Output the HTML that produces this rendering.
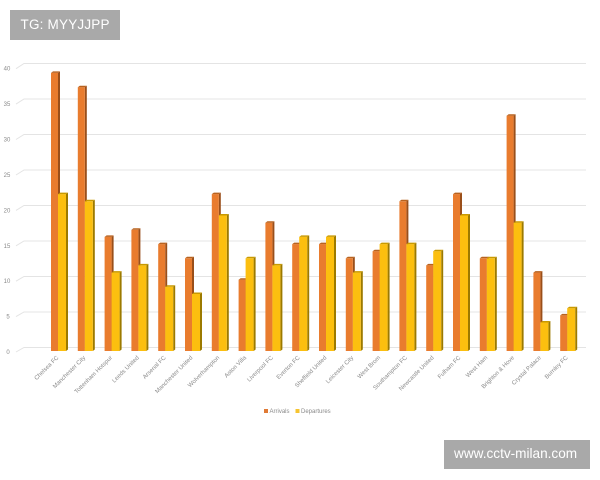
<!DOCTYPE html>
<html><head><meta charset="utf-8"><style>
html,body{margin:0;padding:0;background:#fff;}
body{width:600px;height:480px;position:relative;overflow:hidden;font-family:"Liberation Sans",sans-serif;}
.wm{position:absolute;background:#a9a9a9;color:#fff;}
</style></head><body>
<svg width="600" height="480" viewBox="0 0 600 480" style="position:absolute;left:0;top:0">
<g stroke="#e4e4e4" stroke-width="1" fill="none">
<path d="M16 352 L24 347.5 L586 347.5"/>
<path d="M16 316.6 L24 312 L586 312"/>
<path d="M16 281.2 L24 276.5 L586 276.5"/>
<path d="M16 245.8 L24 241 L586 241"/>
<path d="M16 210.4 L24 205.5 L586 205.5"/>
<path d="M16 175 L24 170 L586 170"/>
<path d="M16 139.5 L24 134.5 L586 134.5"/>
<path d="M16 104.1 L24 99 L586 99"/>
<path d="M16 68.7 L24 63.5 L586 63.5"/>
</g>
<g font-family="Liberation Sans, sans-serif" font-size="6" fill="#8a8a8a" text-anchor="middle">
<text x="8" y="354">0</text>
<text x="8" y="318.6">5</text>
<text x="7" y="283.2">10</text>
<text x="7" y="247.8">15</text>
<text x="7" y="212.4">20</text>
<text x="7" y="177">25</text>
<text x="7" y="141.5">30</text>
<text x="7" y="106.1">35</text>
<text x="7" y="70.7">40</text>
</g>

<!-- bars -->
<g>
<!-- 0 Chelsea 39/22 -->
<g transform="translate(51,0)">
<path d="M7 72.9 L9 71.4 L9 349.5 L7 351Z" fill="#9a4f1a"/><rect x="0" y="72.9" width="7" height="278.1" fill="#e97c2e"/><path d="M0 72.9 L2 71.4 L9 71.4 L7 72.9Z" fill="#b8621f"/>
<path d="M15 194.1 L17 192.6 L17 349.5 L15 351Z" fill="#9c7a00"/><rect x="7" y="194.1" width="8" height="156.9" fill="#fcbf0f"/><path d="M7 194.1 L9 192.6 L17 192.6 L15 194.1Z" fill="#c99a00"/>
</g>
<!-- 1 Man City 37/21 -->
<g transform="translate(77.8,0)">
<path d="M7 87.2 L9 85.7 L9 349.5 L7 351Z" fill="#9a4f1a"/><rect x="0" y="87.2" width="7" height="263.8" fill="#e97c2e"/><path d="M0 87.2 L2 85.7 L9 85.7 L7 87.2Z" fill="#b8621f"/>
<path d="M15 201.3 L17 199.8 L17 349.5 L15 351Z" fill="#9c7a00"/><rect x="7" y="201.3" width="8" height="149.7" fill="#fcbf0f"/><path d="M7 201.3 L9 199.8 L17 199.8 L15 201.3Z" fill="#c99a00"/>
</g>
<!-- 2 Tottenham 16/11 -->
<g transform="translate(104.6,0)">
<path d="M7 236.9 L9 235.4 L9 349.5 L7 351Z" fill="#9a4f1a"/><rect x="0" y="236.9" width="7" height="114.1" fill="#e97c2e"/><path d="M0 236.9 L2 235.4 L9 235.4 L7 236.9Z" fill="#b8621f"/>
<path d="M15 272.6 L17 271.1 L17 349.5 L15 351Z" fill="#9c7a00"/><rect x="7" y="272.6" width="8" height="78.4" fill="#fcbf0f"/><path d="M7 272.6 L9 271.1 L17 271.1 L15 272.6Z" fill="#c99a00"/>
</g>
<!-- 3 Leeds 17/12 -->
<g transform="translate(131.4,0)">
<path d="M7 229.8 L9 228.3 L9 349.5 L7 351Z" fill="#9a4f1a"/><rect x="0" y="229.8" width="7" height="121.2" fill="#e97c2e"/><path d="M0 229.8 L2 228.3 L9 228.3 L7 229.8Z" fill="#b8621f"/>
<path d="M15 265.4 L17 263.9 L17 349.5 L15 351Z" fill="#9c7a00"/><rect x="7" y="265.4" width="8" height="85.6" fill="#fcbf0f"/><path d="M7 265.4 L9 263.9 L17 263.9 L15 265.4Z" fill="#c99a00"/>
</g>
<!-- 4 Arsenal 15/9 -->
<g transform="translate(158.2,0)">
<path d="M7 244.1 L9 242.6 L9 349.5 L7 351Z" fill="#9a4f1a"/><rect x="0" y="244.1" width="7" height="106.9" fill="#e97c2e"/><path d="M0 244.1 L2 242.6 L9 242.6 L7 244.1Z" fill="#b8621f"/>
<path d="M15 286.8 L17 285.3 L17 349.5 L15 351Z" fill="#9c7a00"/><rect x="7" y="286.8" width="8" height="64.2" fill="#fcbf0f"/><path d="M7 286.8 L9 285.3 L17 285.3 L15 286.8Z" fill="#c99a00"/>
</g>
<!-- 5 Man United 13/8 -->
<g transform="translate(185,0)">
<path d="M7 258.3 L9 256.8 L9 349.5 L7 351Z" fill="#9a4f1a"/><rect x="0" y="258.3" width="7" height="92.7" fill="#e97c2e"/><path d="M0 258.3 L2 256.8 L9 256.8 L7 258.3Z" fill="#b8621f"/>
<path d="M15 294 L17 292.5 L17 349.5 L15 351Z" fill="#9c7a00"/><rect x="7" y="294" width="8" height="57" fill="#fcbf0f"/><path d="M7 294 L9 292.5 L17 292.5 L15 294Z" fill="#c99a00"/>
</g>
<!-- 6 Wolves 22/19 -->
<g transform="translate(211.8,0)">
<path d="M7 194.1 L9 192.6 L9 349.5 L7 351Z" fill="#9a4f1a"/><rect x="0" y="194.1" width="7" height="156.9" fill="#e97c2e"/><path d="M0 194.1 L2 192.6 L9 192.6 L7 194.1Z" fill="#b8621f"/>
<path d="M15 215.5 L17 214 L17 349.5 L15 351Z" fill="#9c7a00"/><rect x="7" y="215.5" width="8" height="135.5" fill="#fcbf0f"/><path d="M7 215.5 L9 214 L17 214 L15 215.5Z" fill="#c99a00"/>
</g>
<!-- 7 Aston Villa 10/13 -->
<g transform="translate(238.6,0)">
<path d="M7 279.7 L9 278.2 L9 349.5 L7 351Z" fill="#9a4f1a"/><rect x="0" y="279.7" width="7" height="71.3" fill="#e97c2e"/><path d="M0 279.7 L2 278.2 L9 278.2 L7 279.7Z" fill="#b8621f"/>
<path d="M15 258.3 L17 256.8 L17 349.5 L15 351Z" fill="#9c7a00"/><rect x="7" y="258.3" width="8" height="92.7" fill="#fcbf0f"/><path d="M7 258.3 L9 256.8 L17 256.8 L15 258.3Z" fill="#c99a00"/>
</g>
<!-- 8 Liverpool 18/12 -->
<g transform="translate(265.4,0)">
<path d="M7 222.7 L9 221.2 L9 349.5 L7 351Z" fill="#9a4f1a"/><rect x="0" y="222.7" width="7" height="128.3" fill="#e97c2e"/><path d="M0 222.7 L2 221.2 L9 221.2 L7 222.7Z" fill="#b8621f"/>
<path d="M15 265.4 L17 263.9 L17 349.5 L15 351Z" fill="#9c7a00"/><rect x="7" y="265.4" width="8" height="85.6" fill="#fcbf0f"/><path d="M7 265.4 L9 263.9 L17 263.9 L15 265.4Z" fill="#c99a00"/>
</g>
<!-- 9 Everton 15/16 -->
<g transform="translate(292.2,0)">
<path d="M7 244.1 L9 242.6 L9 349.5 L7 351Z" fill="#9a4f1a"/><rect x="0" y="244.1" width="7" height="106.9" fill="#e97c2e"/><path d="M0 244.1 L2 242.6 L9 242.6 L7 244.1Z" fill="#b8621f"/>
<path d="M15 236.9 L17 235.4 L17 349.5 L15 351Z" fill="#9c7a00"/><rect x="7" y="236.9" width="8" height="114.1" fill="#fcbf0f"/><path d="M7 236.9 L9 235.4 L17 235.4 L15 236.9Z" fill="#c99a00"/>
</g>
<!-- 10 Sheffield 15/16 -->
<g transform="translate(319,0)">
<path d="M7 244.1 L9 242.6 L9 349.5 L7 351Z" fill="#9a4f1a"/><rect x="0" y="244.1" width="7" height="106.9" fill="#e97c2e"/><path d="M0 244.1 L2 242.6 L9 242.6 L7 244.1Z" fill="#b8621f"/>
<path d="M15 236.9 L17 235.4 L17 349.5 L15 351Z" fill="#9c7a00"/><rect x="7" y="236.9" width="8" height="114.1" fill="#fcbf0f"/><path d="M7 236.9 L9 235.4 L17 235.4 L15 236.9Z" fill="#c99a00"/>
</g>
<!-- 11 Leicester 13/11 -->
<g transform="translate(345.8,0)">
<path d="M7 258.3 L9 256.8 L9 349.5 L7 351Z" fill="#9a4f1a"/><rect x="0" y="258.3" width="7" height="92.7" fill="#e97c2e"/><path d="M0 258.3 L2 256.8 L9 256.8 L7 258.3Z" fill="#b8621f"/>
<path d="M15 272.6 L17 271.1 L17 349.5 L15 351Z" fill="#9c7a00"/><rect x="7" y="272.6" width="8" height="78.4" fill="#fcbf0f"/><path d="M7 272.6 L9 271.1 L17 271.1 L15 272.6Z" fill="#c99a00"/>
</g>
<!-- 12 West Brom 14/15 -->
<g transform="translate(372.6,0)">
<path d="M7 251.2 L9 249.7 L9 349.5 L7 351Z" fill="#9a4f1a"/><rect x="0" y="251.2" width="7" height="99.8" fill="#e97c2e"/><path d="M0 251.2 L2 249.7 L9 249.7 L7 251.2Z" fill="#b8621f"/>
<path d="M15 244.1 L17 242.6 L17 349.5 L15 351Z" fill="#9c7a00"/><rect x="7" y="244.1" width="8" height="106.9" fill="#fcbf0f"/><path d="M7 244.1 L9 242.6 L17 242.6 L15 244.1Z" fill="#c99a00"/>
</g>
<!-- 13 Southampton 21/15 -->
<g transform="translate(399.4,0)">
<path d="M7 201.3 L9 199.8 L9 349.5 L7 351Z" fill="#9a4f1a"/><rect x="0" y="201.3" width="7" height="149.7" fill="#e97c2e"/><path d="M0 201.3 L2 199.8 L9 199.8 L7 201.3Z" fill="#b8621f"/>
<path d="M15 244.1 L17 242.6 L17 349.5 L15 351Z" fill="#9c7a00"/><rect x="7" y="244.1" width="8" height="106.9" fill="#fcbf0f"/><path d="M7 244.1 L9 242.6 L17 242.6 L15 244.1Z" fill="#c99a00"/>
</g>
<!-- 14 Newcastle 12/14 -->
<g transform="translate(426.2,0)">
<path d="M7 265.4 L9 263.9 L9 349.5 L7 351Z" fill="#9a4f1a"/><rect x="0" y="265.4" width="7" height="85.6" fill="#e97c2e"/><path d="M0 265.4 L2 263.9 L9 263.9 L7 265.4Z" fill="#b8621f"/>
<path d="M15 251.2 L17 249.7 L17 349.5 L15 351Z" fill="#9c7a00"/><rect x="7" y="251.2" width="8" height="99.8" fill="#fcbf0f"/><path d="M7 251.2 L9 249.7 L17 249.7 L15 251.2Z" fill="#c99a00"/>
</g>
<!-- 15 Fulham 22/19 -->
<g transform="translate(453,0)">
<path d="M7 194.1 L9 192.6 L9 349.5 L7 351Z" fill="#9a4f1a"/><rect x="0" y="194.1" width="7" height="156.9" fill="#e97c2e"/><path d="M0 194.1 L2 192.6 L9 192.6 L7 194.1Z" fill="#b8621f"/>
<path d="M15 215.5 L17 214 L17 349.5 L15 351Z" fill="#9c7a00"/><rect x="7" y="215.5" width="8" height="135.5" fill="#fcbf0f"/><path d="M7 215.5 L9 214 L17 214 L15 215.5Z" fill="#c99a00"/>
</g>
<!-- 16 West Ham 13/13 -->
<g transform="translate(479.8,0)">
<path d="M7 258.3 L9 256.8 L9 349.5 L7 351Z" fill="#9a4f1a"/><rect x="0" y="258.3" width="7" height="92.7" fill="#e97c2e"/><path d="M0 258.3 L2 256.8 L9 256.8 L7 258.3Z" fill="#b8621f"/>
<path d="M15 258.3 L17 256.8 L17 349.5 L15 351Z" fill="#9c7a00"/><rect x="7" y="258.3" width="8" height="92.7" fill="#fcbf0f"/><path d="M7 258.3 L9 256.8 L17 256.8 L15 258.3Z" fill="#c99a00"/>
</g>
<!-- 17 Brighton 33/18 -->
<g transform="translate(506.6,0)">
<path d="M7 115.7 L9 114.2 L9 349.5 L7 351Z" fill="#9a4f1a"/><rect x="0" y="115.7" width="7" height="235.3" fill="#e97c2e"/><path d="M0 115.7 L2 114.2 L9 114.2 L7 115.7Z" fill="#b8621f"/>
<path d="M15 222.7 L17 221.2 L17 349.5 L15 351Z" fill="#9c7a00"/><rect x="7" y="222.7" width="8" height="128.3" fill="#fcbf0f"/><path d="M7 222.7 L9 221.2 L17 221.2 L15 222.7Z" fill="#c99a00"/>
</g>
<!-- 18 Crystal Palace 11/4 -->
<g transform="translate(533.4,0)">
<path d="M7 272.6 L9 271.1 L9 349.5 L7 351Z" fill="#9a4f1a"/><rect x="0" y="272.6" width="7" height="78.4" fill="#e97c2e"/><path d="M0 272.6 L2 271.1 L9 271.1 L7 272.6Z" fill="#b8621f"/>
<path d="M15 322.5 L17 321 L17 349.5 L15 351Z" fill="#9c7a00"/><rect x="7" y="322.5" width="8" height="28.5" fill="#fcbf0f"/><path d="M7 322.5 L9 321 L17 321 L15 322.5Z" fill="#c99a00"/>
</g>
<!-- 19 Burnley 5/6 -->
<g transform="translate(560.2,0)">
<path d="M7 315.4 L9 313.9 L9 349.5 L7 351Z" fill="#9a4f1a"/><rect x="0" y="315.4" width="7" height="35.6" fill="#e97c2e"/><path d="M0 315.4 L2 313.9 L9 313.9 L7 315.4Z" fill="#b8621f"/>
<path d="M15 308.2 L17 306.7 L17 349.5 L15 351Z" fill="#9c7a00"/><rect x="7" y="308.2" width="8" height="42.8" fill="#fcbf0f"/><path d="M7 308.2 L9 306.7 L17 306.7 L15 308.2Z" fill="#c99a00"/>
</g>
</g>

<!-- category labels -->
<g font-family="Liberation Sans, sans-serif" font-size="6" fill="#8a8a8a" text-anchor="end">
<text transform="translate(59,358) rotate(-45)">Chelsea FC</text>
<text transform="translate(85.8,358) rotate(-45)">Manchester City</text>
<text transform="translate(112.6,358) rotate(-45)">Tottenham Hotspur</text>
<text transform="translate(139.4,358) rotate(-45)">Leeds United</text>
<text transform="translate(166.2,358) rotate(-45)">Arsenal FC</text>
<text transform="translate(193,358) rotate(-45)">Manchester United</text>
<text transform="translate(219.8,358) rotate(-45)">Wolverhampton</text>
<text transform="translate(246.6,358) rotate(-45)">Aston Villa</text>
<text transform="translate(273.4,358) rotate(-45)">Liverpool FC</text>
<text transform="translate(300.2,358) rotate(-45)">Everton FC</text>
<text transform="translate(327,358) rotate(-45)">Sheffield United</text>
<text transform="translate(353.8,358) rotate(-45)">Leicester City</text>
<text transform="translate(380.6,358) rotate(-45)">West Brom</text>
<text transform="translate(407.4,358) rotate(-45)">Southampton FC</text>
<text transform="translate(434.2,358) rotate(-45)">Newcastle United</text>
<text transform="translate(461,358) rotate(-45)">Fulham FC</text>
<text transform="translate(487.8,358) rotate(-45)">West Ham</text>
<text transform="translate(514.6,358) rotate(-45)">Brighton &amp; Hove</text>
<text transform="translate(541.4,358) rotate(-45)">Crystal Palace</text>
<text transform="translate(568.2,358) rotate(-45)">Burnley FC</text>
</g>

<!-- legend -->
<rect x="264" y="409" width="4" height="4" fill="#e07a35"/>
<text x="269.5" y="413" font-family="Liberation Sans, sans-serif" font-size="6" fill="#8a8a8a">Arrivals</text>
<rect x="295.5" y="409" width="4" height="4" fill="#f6c431"/>
<text x="301" y="413" font-family="Liberation Sans, sans-serif" font-size="6" fill="#8a8a8a">Departures</text>
</svg>

<div class="wm" style="left:10px;top:10px;width:110px;height:30px;">
<span style="position:absolute;left:10.5px;top:7px;font-size:13.5px;line-height:16px;letter-spacing:0.2px;">TG: MYYJJPP</span>
</div>
<div class="wm" style="left:444px;top:440px;width:146px;height:29px;">
<span style="position:absolute;left:10px;top:6px;font-size:13.6px;line-height:16px;">www.cctv-milan.com</span>
</div>
</body></html>
